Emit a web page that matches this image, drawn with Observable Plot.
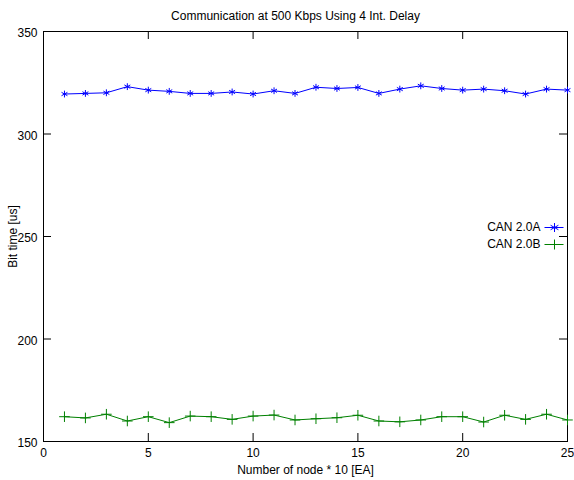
<!DOCTYPE html>
<html>
<head>
<meta charset="utf-8">
<script src="https://cdn.jsdelivr.net/npm/d3@7"></script>
<script src="https://cdn.jsdelivr.net/npm/@observablehq/plot@0.6"></script>
<style>
  html, body { margin: 0; padding: 0; background: #fff; }
</style>
</head>
<body>
<div id="chart"></div>
<script>
const nodes = [1,2,3,4,5,6,7,8,9,10,11,12,13,14,15,16,17,18,19,20,21,22,23,24,25];
const can20A = [319.5,319.8,320.1,323.1,321.4,320.8,319.8,319.8,320.5,319.5,321.1,319.8,
                322.8,322.2,322.7,319.8,321.9,323.5,322.2,321.4,321.9,321.1,319.5,321.9,321.4];
const can20B = [162.1,161.5,163.3,160.0,162.1,159.2,162.4,162.1,160.8,162.4,162.9,160.5,
                161.1,161.6,162.8,160.0,159.6,160.5,162.1,162.1,159.5,162.8,160.8,163.3,160.5];
const seriesNames = ["CAN 2.0A", "CAN 2.0B"];
const seriesColors = ["#0000ff", "#008000"];
const xTicks = [0,5,10,15,20,25];
const yTicks = [150,200,250,300,350];
const titleText = "Communication at 500 Kbps Using 4 Int. Delay";
const xLabel = "Number of node * 10 [EA]";
const yLabel = "Bit time [us]";

const W = 574, H = 480, mL = 43, mR = 7, mT = 31, mB = 39;
const fw = W - mL - mR, fh = H - mT - mB, tick = 8;

const rowsA = nodes.map((n, i) => ({x: n, y: can20A[i]}));
const rowsB = nodes.map((n, i) => ({x: n, y: can20B[i]}));

// legend symbols: short line with marker
const legendAsterisk = {draw(ctx) {
  ctx.moveTo(-10, 0); ctx.lineTo(9, 0);
  ctx.moveTo(0, -4.5); ctx.lineTo(0, 4.5);
  ctx.moveTo(-3.9, -2.25); ctx.lineTo(3.9, 2.25);
  ctx.moveTo(-3.9, 2.25); ctx.lineTo(3.9, -2.25);
}};
const legendPlus = {draw(ctx) {
  ctx.moveTo(-10, 0); ctx.lineTo(9, 0);
  ctx.moveTo(0, -5); ctx.lineTo(0, 5);
}};

const chart = Plot.plot({
  width: W, height: H,
  marginLeft: mL, marginRight: mR, marginTop: mT, marginBottom: mB,
  style: {fontFamily: "'Liberation Sans', Arial, sans-serif", fontSize: "12px", background: "#fff", color: "#000"},
  x: {domain: [0, 25]},
  y: {domain: [150, 350]},
  marks: [
    Plot.axisX({ticks: xTicks, tickSize: 0, tickPadding: 7, label: xLabel, labelAnchor: "center", labelArrow: "none", labelOffset: 32}),
    Plot.axisY({ticks: yTicks, tickSize: 0, tickPadding: 6, dy: 2, label: yLabel, labelAnchor: "center", labelArrow: "none", labelOffset: 35}),
    Plot.tickX(xTicks, {x: d => d, insetTop: fh - tick, stroke: "#000"}),
    Plot.tickX(xTicks, {x: d => d, insetBottom: fh - tick, stroke: "#000"}),
    Plot.tickY(yTicks, {y: d => d, insetRight: fw - tick, stroke: "#000"}),
    Plot.tickY(yTicks, {y: d => d, insetLeft: fw - tick, stroke: "#000"}),
    Plot.frame({stroke: "#000"}),
    Plot.line(rowsA, {x: "x", y: "y", stroke: seriesColors[0], strokeWidth: 1}),
    Plot.dot(rowsA, {x: "x", y: "y", symbol: "asterisk", stroke: seriesColors[0], r: 3.2, strokeWidth: 1}),
    Plot.line(rowsB, {x: "x", y: "y", stroke: seriesColors[1], strokeWidth: 1}),
    Plot.dot(rowsB, {x: "x", y: "y", symbol: "plus", stroke: seriesColors[1], r: 3.5, strokeWidth: 1}),
    Plot.text([titleText], {frameAnchor: "top", dx: -10, dy: -20, fontSize: 12, fill: "#000"}),
    Plot.text([seriesNames[0]], {frameAnchor: "right", dx: -27, dy: -9, textAnchor: "end", fontSize: 12, fill: "#000"}),
    Plot.text([seriesNames[1]], {frameAnchor: "right", dx: -27, dy: 8, textAnchor: "end", fontSize: 12, fill: "#000"}),
    Plot.dot([seriesNames[0]], {frameAnchor: "right", dx: -13, dy: -9, symbol: legendAsterisk, stroke: seriesColors[0], strokeWidth: 1}),
    Plot.dot([seriesNames[1]], {frameAnchor: "right", dx: -13, dy: 8, symbol: legendPlus, stroke: seriesColors[1], strokeWidth: 1})
  ]
});
document.getElementById("chart").appendChild(chart);
</script>
</body>
</html>
